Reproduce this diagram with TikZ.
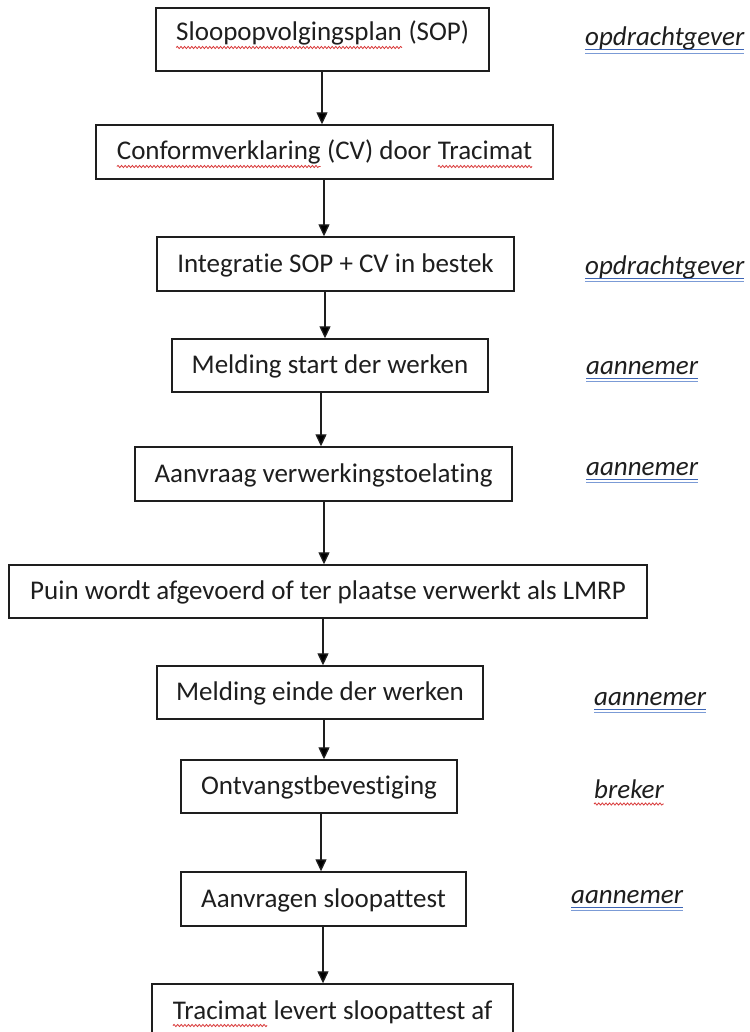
\documentclass[tikz,border=0pt]{standalone}
\usepackage{fontspec}
\setmainfont{Carlito}[Ligatures=NoCommon]
\usetikzlibrary{arrows.meta,decorations.pathmorphing}
\definecolor{ink}{HTML}{1E1E1E}
\definecolor{wavered}{HTML}{D93A3A}
\definecolor{ulblueA}{HTML}{3C64B4}
\definecolor{ulblueB}{HTML}{7B9BD6}
\tikzset{
  stepbox/.style={draw=ink, line width=1.4pt, inner sep=0pt, text height=16pt, text depth=0pt,
    font=\fontsize{27}{32}\selectfont, text=ink},
  flow/.style={draw=ink, line width=1.3pt, -{Triangle[width=11pt,length=12pt]}},
  role/.style={font=\fontsize{27}{32}\selectfont\itshape, text=ink, inner sep=0pt, anchor=base west},
  wave/.style={draw=wavered, line width=0.8pt, decorate, decoration={snake, amplitude=1.1pt, segment length=3.6pt}},
  ulA/.style={draw=ulblueA, line width=1pt},
  ulB/.style={draw=ulblueB, line width=1pt},
}
\newcommand\wavyword[1]{\tikz[baseline=(w.base)]{\node[draw=none,fill=none,inner sep=0pt,outer sep=0pt,minimum width=0pt,minimum height=0pt,text height=,text depth=,anchor=base](w){#1};\path[wave]([yshift=-6.5pt]w.base west)--([yshift=-6.5pt]w.base east);}}
\begin{document}
\begin{tikzpicture}[x=1pt,y=-1pt]
\useasboundingbox (0,0) rectangle (749,1032);
\fill[white] (0,0) rectangle (749,1032);
\clip (0,0) rectangle (749,1032);
% boxes
\node[stepbox, text depth=13pt, minimum width=333pt, minimum height=63pt] (b1) at (322.5,39.5) {\wavyword{Sloopopvolgingsplan} (SOP)};
\node[stepbox, minimum width=457pt, minimum height=54pt] (b2) at (324.5,152) {\wavyword{Conformverklaring} (CV) door \wavyword{Tracimat}};
\node[stepbox, minimum width=357pt, minimum height=54pt] (b3) at (335.5,264) {Integratie SOP + CV in bestek};
\node[stepbox, minimum width=316pt, minimum height=53pt] (b4) at (330,365.5) {Melding start der werken};
\node[stepbox, minimum width=377pt, minimum height=54pt] (b5) at (323.5,474) {Aanvraag verwerkingstoelating};
\node[stepbox, minimum width=638pt, minimum height=53pt] (b6) at (328,591.5) {Puin wordt afgevoerd of ter plaatse verwerkt als LMRP};
\node[stepbox, minimum width=326pt, minimum height=53pt] (b7) at (320,692.5) {Melding einde der werken};
\node[stepbox, minimum width=276pt, minimum height=53pt] (b8) at (319,786.5) {Ontvangstbevestiging};
\node[stepbox, minimum width=285pt, minimum height=54pt] (b9) at (323.5,899) {Aanvragen sloopattest};
\node[stepbox, minimum width=361pt, minimum height=54pt] (b10) at (332.5,1011) {\wavyword{Tracimat} levert sloopattest af};
% arrow columns
\coordinate (c1) at (322,0);
\coordinate (c2) at (324,0);
\coordinate (c3) at (325,0);
\coordinate (c4) at (321,0);
\coordinate (c5) at (324,0);
\coordinate (c6) at (323,0);
\coordinate (c7) at (324,0);
\coordinate (c8) at (321,0);
\coordinate (c9) at (323,0);
\draw[flow] (b1.south -| c1) -- (b2.north -| c1);
\draw[flow] (b2.south -| c2) -- (b3.north -| c2);
\draw[flow] (b3.south -| c3) -- (b4.north -| c3);
\draw[flow] (b4.south -| c4) -- (b5.north -| c4);
\draw[flow] (b5.south -| c5) -- (b6.north -| c5);
\draw[flow] (b6.south -| c6) -- (b7.north -| c6);
\draw[flow] (b7.south -| c7) -- (b8.north -| c7);
\draw[flow] (b8.south -| c8) -- (b9.north -| c8);
\draw[flow] (b9.south -| c9) -- (b10.north -| c9);
% roles
\node[role] (r1) at (585,46) {opdrachtgever};
\node[role] (r2) at (585,274) {opdrachtgever};
\node[role] (r3) at (586,374) {aannemer};
\node[role] (r4) at (586,475) {aannemer};
\node[role] (r5) at (594,705) {aannemer};
\node[role] (r6) at (594,798) {breker};
\node[role] (r7) at (571,903) {aannemer};
\foreach \r in {r1,r2,r3,r4,r5,r7}{
  \draw[ulA] ([yshift=-4pt]\r.base west) -- ([yshift=-4pt]\r.base east);
  \draw[ulB] ([yshift=-7.5pt]\r.base west) -- ([yshift=-7.5pt]\r.base east);
}
\path[wave] ([yshift=-6pt]r6.base west) -- ([yshift=-6pt]r6.base east);
\end{tikzpicture}
\end{document}
